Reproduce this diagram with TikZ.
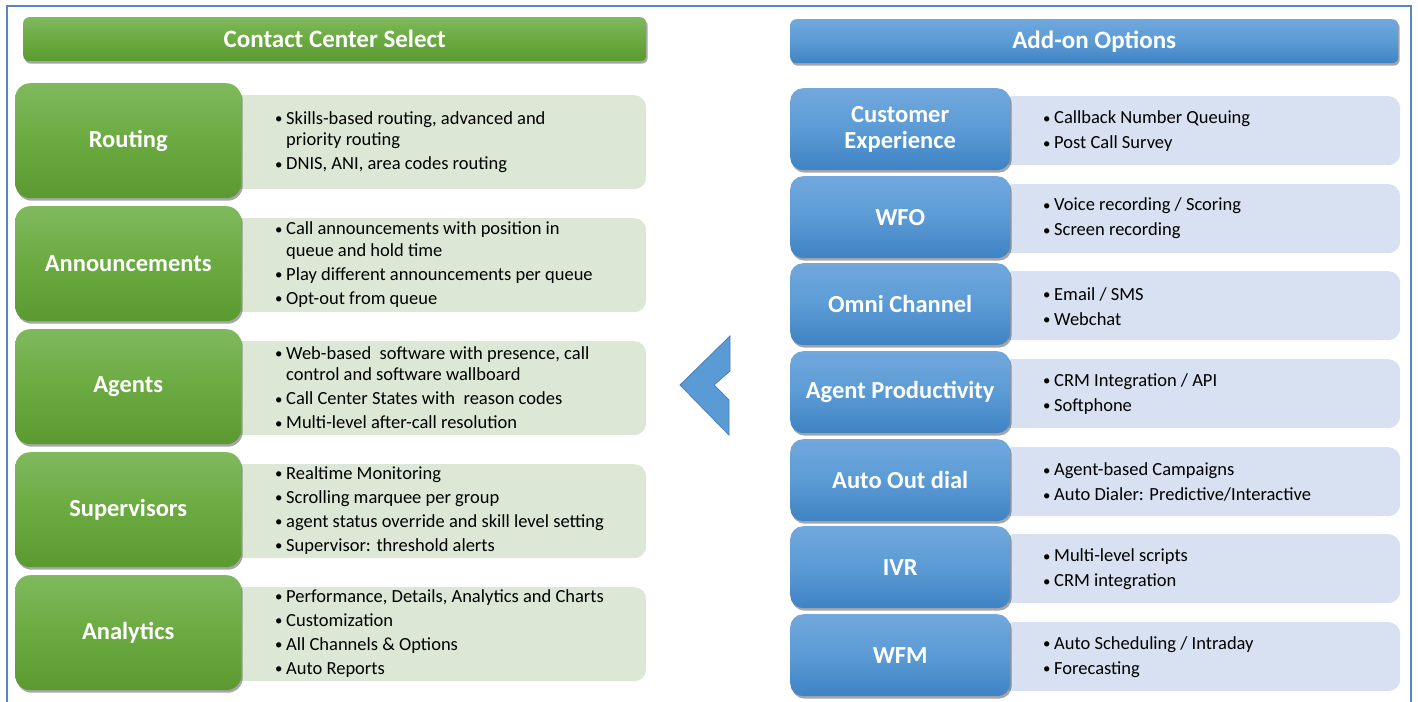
\documentclass[tikz,border=0pt]{standalone}
\usepackage{fontspec}
\setmainfont{Carlito}
\usetikzlibrary{shadows}
\definecolor{gTop}{HTML}{7FB95E}
\definecolor{gMid}{HTML}{6BAA40}
\definecolor{gBot}{HTML}{5A9A31}
\definecolor{bTop}{HTML}{71A8DD}
\definecolor{bMid}{HTML}{5B9BD5}
\definecolor{bBot}{HTML}{3F83C4}
\definecolor{gPanel}{HTML}{DCE8D5}
\definecolor{bPanel}{HTML}{D7E1F1}
\definecolor{frameblue}{HTML}{5A86C0}
\definecolor{arrowedge}{HTML}{4A7EBB}
\newcommand\bul[1]{\makebox[11pt][l]{\raisebox{0.5pt}{\scalebox{0.8}{\textbullet}}}#1}
\newcommand\cont[1]{\hspace*{11pt}#1}
\begin{document}
\begin{tikzpicture}[x=1pt,y=-1pt,
  shade/.style={drop shadow={shadow xshift=1.5pt,shadow yshift=-2.5pt,opacity=0.35,fill=black}},
  ghead/.style={anchor=north west,rounded corners=6pt,top color=gTop,bottom color=gBot,middle color=gMid,shade,
     text=white,font=\fontsize{25}{28}\selectfont\bfseries,inner sep=0pt},
  bhead/.style={anchor=north west,rounded corners=6pt,top color=bTop,bottom color=bBot,middle color=bMid,shade,
     text=white,font=\fontsize{25}{28}\selectfont\bfseries,inner sep=0pt},
  gbox/.style={anchor=north west,rounded corners=15pt,top color=gTop,bottom color=gBot,middle color=gMid,shade,
     minimum width=226,minimum height=115,text=white,font=\fontsize{24.5}{26}\selectfont\bfseries,inner sep=0pt,align=center},
  bbox/.style={anchor=north west,rounded corners=13pt,top color=bTop,bottom color=bBot,middle color=bMid,shade,
     minimum width=220,minimum height=82,text=white,font=\fontsize{24.5}{26}\selectfont\bfseries,inner sep=0pt,align=center},
  gpanel/.style={anchor=north west,rounded corners=12pt,fill=gPanel,minimum width=416,minimum height=94,inner sep=0pt},
  bpanel/.style={anchor=north west,rounded corners=12pt,fill=bPanel,minimum width=400,minimum height=69,inner sep=0pt},
  gtext/.style={anchor=west,align=left,inner sep=0pt,font=\fontsize{18.5}{21.5}\selectfont},
  btext/.style={anchor=west,align=left,inner sep=0pt,font=\fontsize{18.5}{21.5}\selectfont},
]
\useasboundingbox (0,0) rectangle (1418,701);
\draw[frameblue,line width=1.5pt] (7,705) -- (7,6) -- (1411,6) -- (1411,705);

% headers
\node[ghead,minimum width=623,minimum height=44] (cchead) at (23,17) {Contact Center Select};
\node[bhead,minimum width=608,minimum height=44] (aohead) at (790,19) {Add-on Options};

% left panels
\node[gpanel] (p1) at (230,95) {};
\node[gpanel] (p2) at (230,218) {};
\node[gpanel] (p3) at (230,341) {};
\node[gpanel] (p4) at (230,464) {};
\node[gpanel] (p5) at (230,587) {};

\node[gtext] (t1) at (275,142) {\bul{Skills-based routing, advanced and}\\ \cont{priority routing}\\[2.5pt] \bul{DNIS, ANI, area codes routing}};
\node[gtext] (t2) at (275,264.5) {\bul{Call announcements with position in}\\ \cont{queue and hold time}\\[2.5pt] \bul{Play different announcements per queue}\\[2.5pt] \bul{Opt-out from queue}};
\node[gtext] (t3) at (275,387.5) {\bul{Web-based\ \ software with presence, call}\\ \cont{control and software wallboard}\\[2.5pt] \bul{Call Center States with\ \ reason codes}\\[2.5pt] \bul{Multi-level after-call resolution}};
\node[gtext] (t4) at (275,510.5) {\bul{Realtime Monitoring}\\[2.5pt] \bul{Scrolling marquee per group}\\[2.5pt] \bul{agent status override and skill level setting}\\[2.5pt] \bul{Supervisor: threshold alerts}};
\node[gtext] (t5) at (275,633.5) {\bul{Performance, Details, Analytics and Charts}\\[2.5pt] \bul{Customization}\\[2.5pt] \bul{All Channels \& Options}\\[2.5pt] \bul{Auto Reports}};

% left boxes
\node[gbox] (routing) at (15,83) {Routing};
\node[gbox] (announce) at (15,206) {Announcements};
\node[gbox] (agents) at (15,329) {Agents};
\node[gbox] (superv) at (15,452) {Supervisors};
\node[gbox] (analytics) at (15,575) {Analytics};

% right panels
\node[bpanel] (q1) at (1000,96) {};
\node[bpanel] (q2) at (1000,184) {};
\node[bpanel] (q3) at (1000,271) {};
\node[bpanel] (q4) at (1000,359) {};
\node[bpanel] (q5) at (1000,447) {};
\node[bpanel] (q6) at (1000,534) {};
\node[bpanel] (q7) at (1000,622) {};

\node[btext] (u1) at (1043,131.5) {\bul{Callback Number Queuing}\\[3.5pt] \bul{Post Call Survey}};
\node[btext] (u2) at (1043,218.5) {\bul{Voice recording / Scoring}\\[3.5pt] \bul{Screen recording}};
\node[btext] (u3) at (1043,306.5) {\bul{Email / SMS}\\[3.5pt] \bul{Webchat}};
\node[btext] (u4) at (1043,394) {\bul{CRM Integration / API}\\[3.5pt] \bul{Softphone}};
\node[btext] (u5) at (1043,482) {\bul{Agent-based Campaigns}\\[3.5pt] \bul{Auto Dialer: Predictive/Interactive}};
\node[btext] (u6) at (1043,569.5) {\bul{Multi-level scripts}\\[3.5pt] \bul{CRM integration}};
\node[btext] (u7) at (1043,657) {\bul{Auto Scheduling / Intraday}\\[3.5pt] \bul{Forecasting}};

% right boxes
\node[bbox] (custexp) at (790,88) {Customer\\Experience};
\node[bbox] (wfo) at (790,176) {WFO};
\node[bbox] (omni) at (790,263) {Omni Channel};
\node[bbox] (agentprod) at (790,351) {Agent Productivity};
\node[bbox] (autodial) at (790,439) {Auto Out dial};
\node[bbox] (ivr) at (790,526) {IVR};
\node[bbox] (wfm) at (790,614) {WFM};

% chevron arrow
\filldraw[fill=bMid,draw=arrowedge,line width=0.8pt] (730,336) -- (730,371) -- (714,385) -- (729,400) -- (729,435) -- (680,385) -- cycle;
\end{tikzpicture}
\end{document}
